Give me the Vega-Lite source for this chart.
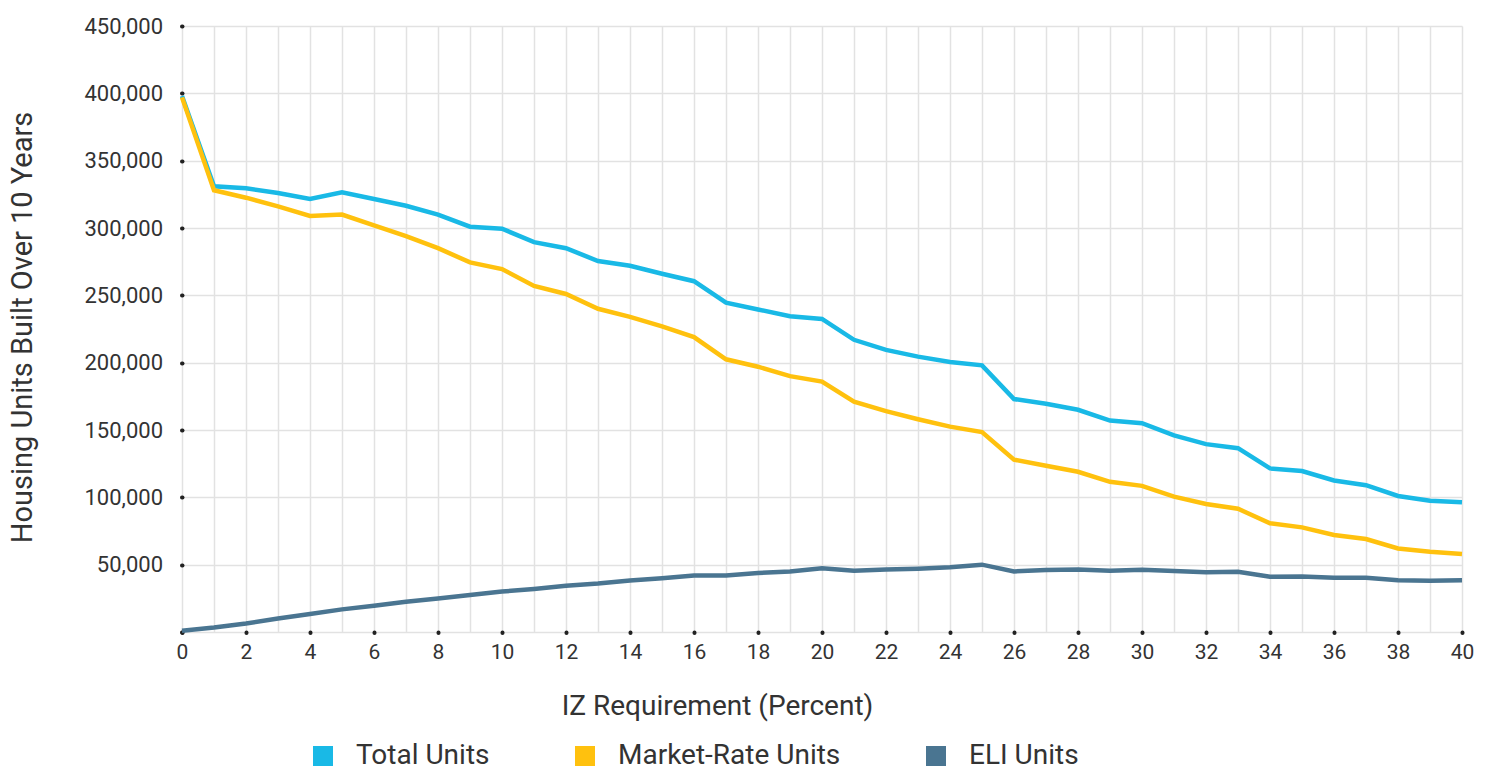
{
  "$schema": "https://vega.github.io/schema/vega-lite/v6.json",
  "width": 1280,
  "height": 606,
  "autosize": "none",
  "padding": {"left": 182, "top": 26, "right": 27, "bottom": 141},
  "background": "white",
  "config": {
    "view": {"stroke": null},
    "font": "Roboto",
    "axis": {"labelFont": "Roboto", "titleFont": "Roboto", "labelColor": "#333333", "titleColor": "#333333", "titleFontWeight": "normal"}
  },
  "data": {
    "values": [
      {"iz": 0, "total": 398000, "market": 397000, "eli": 1000},
      {"iz": 1, "total": 331000, "market": 328000, "eli": 3300},
      {"iz": 2, "total": 329500, "market": 322500, "eli": 6300},
      {"iz": 3, "total": 326000, "market": 316000, "eli": 10000},
      {"iz": 4, "total": 321500, "market": 309000, "eli": 13300},
      {"iz": 5, "total": 326500, "market": 310000, "eli": 16800},
      {"iz": 6, "total": 321500, "market": 302000, "eli": 19500},
      {"iz": 7, "total": 316500, "market": 294000, "eli": 22500},
      {"iz": 8, "total": 310000, "market": 285000, "eli": 24800},
      {"iz": 9, "total": 301000, "market": 274500, "eli": 27500},
      {"iz": 10, "total": 299500, "market": 269500, "eli": 30000},
      {"iz": 11, "total": 289500, "market": 257000, "eli": 32000},
      {"iz": 12, "total": 285000, "market": 251000, "eli": 34300},
      {"iz": 13, "total": 275500, "market": 240000, "eli": 36000},
      {"iz": 14, "total": 272000, "market": 234000, "eli": 38300},
      {"iz": 15, "total": 266000, "market": 227000, "eli": 40000},
      {"iz": 16, "total": 260500, "market": 219000, "eli": 42000},
      {"iz": 17, "total": 244500, "market": 202500, "eli": 42000},
      {"iz": 18, "total": 239500, "market": 197000, "eli": 43800},
      {"iz": 19, "total": 234500, "market": 190000, "eli": 45000},
      {"iz": 20, "total": 232500, "market": 186000, "eli": 47300},
      {"iz": 21, "total": 217000, "market": 171000, "eli": 45500},
      {"iz": 22, "total": 209500, "market": 164000, "eli": 46500},
      {"iz": 23, "total": 204500, "market": 158000, "eli": 47000},
      {"iz": 24, "total": 200500, "market": 152500, "eli": 48000},
      {"iz": 25, "total": 198000, "market": 148500, "eli": 50000},
      {"iz": 26, "total": 173000, "market": 128000, "eli": 45000},
      {"iz": 27, "total": 169500, "market": 123500, "eli": 46000},
      {"iz": 28, "total": 165000, "market": 119000, "eli": 46500},
      {"iz": 29, "total": 157000, "market": 111500, "eli": 45500},
      {"iz": 30, "total": 155000, "market": 108500, "eli": 46300},
      {"iz": 31, "total": 146000, "market": 100500, "eli": 45300},
      {"iz": 32, "total": 139500, "market": 95000, "eli": 44300},
      {"iz": 33, "total": 136500, "market": 91500, "eli": 44800},
      {"iz": 34, "total": 121500, "market": 80700, "eli": 41000},
      {"iz": 35, "total": 119500, "market": 77700, "eli": 41300},
      {"iz": 36, "total": 112500, "market": 72000, "eli": 40300},
      {"iz": 37, "total": 109000, "market": 69000, "eli": 40300},
      {"iz": 38, "total": 101000, "market": 62000, "eli": 38400},
      {"iz": 39, "total": 97500, "market": 59600, "eli": 38100},
      {"iz": 40, "total": 96300, "market": 58000, "eli": 38400}
    ]
  },
  "transform": [
    {"fold": ["total", "market", "eli"], "as": ["key", "units"]},
    {"lookup": "key", "from": {"data": {"values": [
      {"key": "total", "series": "Total Units"},
      {"key": "market", "series": "Market-Rate Units"},
      {"key": "eli", "series": "ELI Units"}
    ]}, "key": "key", "fields": ["series"]}}
  ],
  "mark": {"type": "line", "strokeWidth": 4.5, "interpolate": "linear"},
  "encoding": {
    "x": {
      "field": "iz", "type": "quantitative",
      "scale": {"domain": [0, 40], "nice": false, "zero": false},
      "axis": {
        "title": "IZ Requirement (Percent)",
        "titleX": 535,
        "values": [0,1,2,3,4,5,6,7,8,9,10,11,12,13,14,15,16,17,18,19,20,21,22,23,24,25,26,27,28,29,30,31,32,33,34,35,36,37,38,39,40],
        "labelExpr": "datum.value % 2 === 0 ? datum.label : ''",
        "labelFlush": false,
        "labelOverlap": false,
        "labelFontSize": 21,
        "labelPadding": 9,
        "titleFontSize": 28,
        "titlePadding": 30,
        "domain": false,
        "grid": true,
        "gridColor": "#e2e2e2",
        "gridWidth": 1.5,
        "tickSize": 0.5,
        "tickWidth": 4,
        "tickCap": "round",
        "tickColor": "#222222",
        "tickOpacity": {"condition": {"test": "datum.value % 2 === 0", "value": 1}, "value": 0}
      }
    },
    "y": {
      "field": "units", "type": "quantitative",
      "scale": {"domain": [0, 450000], "nice": false},
      "axis": {
        "title": "Housing Units  Built Over 10 Years",
        "titleY": 301,
        "values": [0, 50000, 100000, 150000, 200000, 250000, 300000, 350000, 400000, 450000],
        "labelExpr": "datum.value === 0 ? '' : format(datum.value, ',')",
        "labelFlush": false,
        "labelOverlap": false,
        "labelFontSize": 22,
        "labelPadding": 19,
        "titleFontSize": 29,
        "titlePadding": 46,
        "domain": false,
        "grid": true,
        "gridColor": "#e2e2e2",
        "gridWidth": 1.5,
        "tickSize": 0.5,
        "tickWidth": 4,
        "tickCap": "round",
        "tickColor": "#222222"
      }
    },
    "color": {
      "field": "series", "type": "nominal",
      "scale": {"domain": ["Total Units", "Market-Rate Units", "ELI Units"], "range": ["#19B9E6", "#FFC10E", "#4A7591"]},
      "legend": {
        "title": null,
        "orient": "none",
        "legendX": 127,
        "legendY": 716,
        "direction": "horizontal",
        "symbolType": "square",
        "symbolSize": 100,
        "symbolStrokeWidth": 10,
        "symbolOpacity": 1,
        "labelFontSize": 28,
        "labelFont": "Roboto",
        "labelColor": "#333333",
        "labelLimit": 500,
        "labelOffset": 19,
        "columnPadding": 70
      }
    },
    "order": {"field": "iz", "type": "quantitative"}
  }
}
